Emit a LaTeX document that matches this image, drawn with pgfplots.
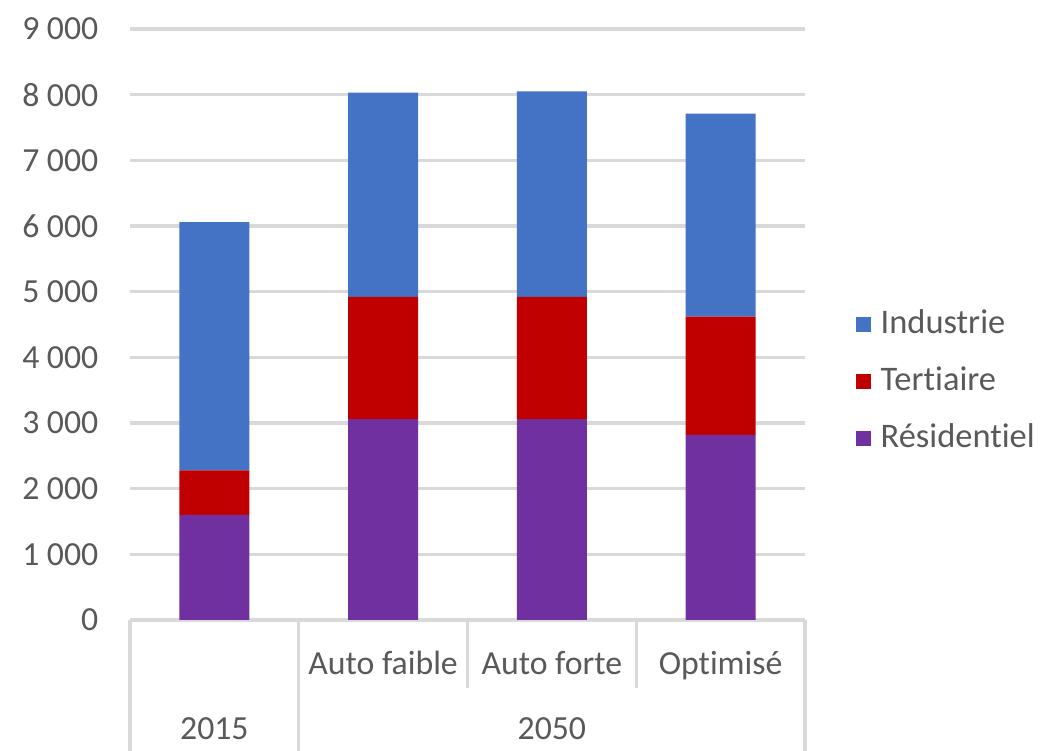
\documentclass[border=0pt]{standalone}
\usepackage{pgfplots}
\pgfplotsset{compat=1.18}
\usepackage{fontspec}
\setmainfont[Ligatures=NoCommon]{Carlito}
\definecolor{ind}{HTML}{4472C4}
\definecolor{ter}{HTML}{C00000}
\definecolor{res}{HTML}{7030A0}
\definecolor{txt}{HTML}{595959}
\definecolor{grd}{HTML}{D9D9D9}
\begin{document}
\begin{tikzpicture}
\path[use as bounding box] (0,0) rectangle (10.41cm,7.51cm);
\begin{axis}[
  at={(1.30cm,1.31cm)}, anchor=south west,
  scale only axis, width=6.75cm, height=5.91cm,
  ybar stacked, bar width=0.70cm,
  xmin=-0.5, xmax=3.5, ymin=0, ymax=9000,
  xtick={0,1,2,3}, xticklabels={,Auto faible,Auto forte,Optimisé},
  ytick={0,1000,...,9000},
  major tick length=0pt,
  axis line style={draw=none},
  ymajorgrids, grid style={grd, line width=0.9pt},
  font=\fontsize{9.6}{11.5}\selectfont,
  tick label style={text=txt},
  /pgf/number format/assume math mode=true,
  /pgf/number format/1000 sep={\ },
  yticklabel style={anchor=east, inner sep=0pt, xshift=-0.31cm},
  xticklabel style={anchor=base, inner sep=0pt, yshift=-0.55cm},
  clip=false,
  legend style={at={(1,0.404)}, anchor=west, xshift=0.5cm, draw=none, fill=none,
    font=\fontsize{9.8}{11.5}\selectfont, text=txt, inner sep=0pt,
    row sep=0.28cm, nodes={inner sep=0pt, anchor=west},
    /tikz/every odd column/.append style={column sep=0.1cm}},
  legend cell align=left,
  reverse legend,
  legend image code/.code={\fill[#1] (0cm,-0.075cm) rectangle (0.15cm,0.075cm);},
]
\addplot[fill=res, draw=none] coordinates {(0,1600) (1,3060) (2,3060) (3,2820)};
\addlegendentry{Résidentiel}
\addplot[fill=ter, draw=none] coordinates {(0,680) (1,1860) (2,1860) (3,1800)};
\addlegendentry{Tertiaire}
\addplot[fill=ind, draw=none] coordinates {(0,3780) (1,3110) (2,3130) (3,3090)};
\addlegendentry{Industrie}
\draw[grd, line width=0.9pt] (axis cs:-0.5,0) -- (axis cs:3.5,0);
\draw[grd, line width=0.9pt] (axis cs:-0.5,0) -- ([yshift=-1.40cm]axis cs:-0.5,0);
\draw[grd, line width=0.9pt] (axis cs:0.5,0) -- ([yshift=-1.40cm]axis cs:0.5,0);
\draw[grd, line width=0.9pt] (axis cs:3.5,0) -- ([yshift=-1.40cm]axis cs:3.5,0);
\draw[grd, line width=0.9pt] (axis cs:1.5,0) -- ([yshift=-0.68cm]axis cs:1.5,0);
\draw[grd, line width=0.9pt] (axis cs:2.5,0) -- ([yshift=-0.68cm]axis cs:2.5,0);
\node[text=txt, inner sep=0pt, anchor=base] at ([yshift=-1.20cm]axis cs:0,0) {2015};
\node[text=txt, inner sep=0pt, anchor=base] at ([yshift=-1.20cm]axis cs:2,0) {2050};
\end{axis}
\end{tikzpicture}
\end{document}
